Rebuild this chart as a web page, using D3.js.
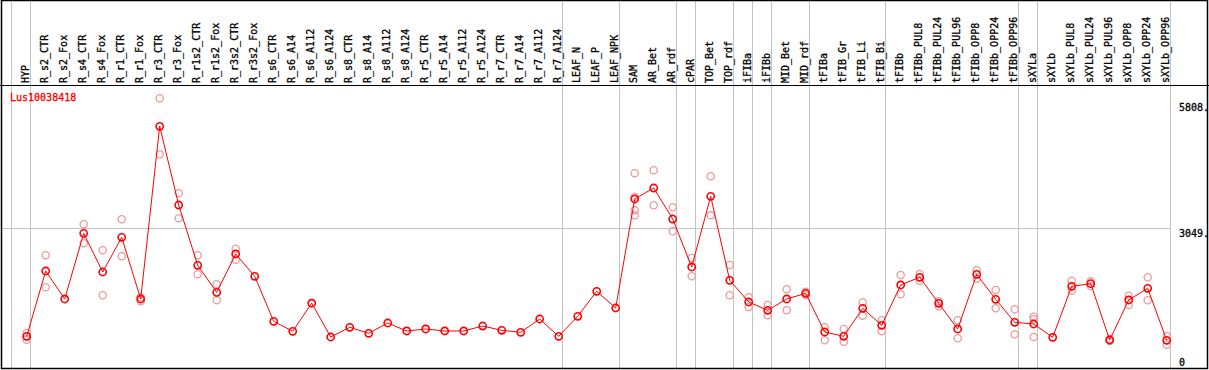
<!DOCTYPE html>
<html>
<head>
<meta charset="utf-8">
<script src="https://cdn.jsdelivr.net/npm/d3@7"></script>
<style>
	body { margin: 0; background: #fff; }
	svg text { font-family: "DejaVu Sans Mono", monospace; font-size: 10px; }
</style>
</head>
<body>
<div id="chart"></div>
<script>
const samples = ["HYP", "R_s2_CTR", "R_s2_Fox", "R_s4_CTR", "R_s4_Fox", "R_r1_CTR", "R_r1_Fox", "R_r3_CTR", "R_r3_Fox",
	"R_r1s2_CTR", "R_r1s2_Fox", "R_r3s2_CTR", "R_r3s2_Fox", "R_s6_CTR", "R_s6_A14", "R_s6_A112", "R_s6_A124",
	"R_s8_CTR", "R_s8_A14", "R_s8_A112", "R_s8_A124", "R_r5_CTR", "R_r5_A14", "R_r5_A112", "R_r5_A124",
	"R_r7_CTR", "R_r7_A14", "R_r7_A112", "R_r7_A124", "LEAF_N", "LEAF_P", "LEAF_NPK", "SAM", "AR_Bet", "AR_rdf",
	"cPAR", "TOP_Bet", "TOP_rdf", "iFIBa", "iFIBb", "MID_Bet", "MID_rdf", "tFIBa", "tFIB_Gr", "tFIB_Li", "tFIB_Bi",
	"tFIBb", "tFIBb_PUL8", "tFIBb_PUL24", "tFIBb_PUL96", "tFIBb_OPP8", "tFIBb_OPP24", "tFIBb_OPP96",
	"sXYLa", "sXYLb", "sXYLb_PUL8", "sXYLb_PUL24", "sXYLb_PUL96", "sXYLb_OPP8", "sXYLb_OPP24", "sXYLb_OPP96"];

const means = [673, 2106, 1492, 2932, 2084, 2845, 1492, 5280, 3553, 2231, 1638, 2479, 1989, 1002, 783, 1400, 658,
	871, 739, 965, 790, 834, 790, 790, 899, 805, 761, 1053, 673, 1112, 1660, 1294, 3685, 3926, 3246, 2194, 3744,
	1902, 1426, 1244, 1492, 1616, 768, 673, 1288, 915, 1799, 1968, 1397, 834, 2033, 1485, 980, 943, 651, 1770,
	1828, 592, 1470, 1726, 586];

const replicates = [[746, 673, 599], [2450, 1748], [], [3130, 2713], [2560, 1573], [3240, 2428], [1529, 1441],
	[5894, 4666], [3810, 3262], [2450, 2033], [1814, 1463], [2595, 2354], [],
	[], [], [], [], [], [], [], [], [], [], [], [], [], [], [], [], [], [], [],
	[4249, 3729, 3437, 3327], [4315, 3547], [3503, 2976], [2391, 1989], [4183, 3327], [2237, 1573],
	[1529, 1316], [1360, 1134], [1704, 1244], [1650, 1580], [871, 586], [834, 555], [1419, 1126], [1024, 783],
	[2018, 1595], [2040, 1893], [1441, 1331], [1024, 629], [2128, 1937], [1689, 1288], [1266, 717],
	[1104, 1046, 658], [], [1893, 1674], [1880, 1777], [620, 570], [1564, 1360], [1968, 1463], [680, 489]];

// last sample index of each group (-1 = line before the first one)
const groupEnds = [-1, 0, 28, 31, 34, 35, 37, 38, 39, 41, 45, 52, 53, 60];

const yTicks = [5808, 3049, 0];
const yTickLabels = ["5808.", "3049.", "0"];
const gridValue = 3049;
const title = "Lus10038418";

const W = 1209, H = 370;
const headerBottom = 85;

const svg = d3.select("#chart").append("svg")
	.attr("width", W)
	.attr("height", H);

const x = d3.scalePoint()
	.domain(samples)
	.range([26.7, 1166.7]);
const step = x.step();

const y = d3.scaleLinear()
	.domain([0, gridValue])
	.range([367, 228]);

const sepX = d => Math.round((d < 0 ? x(samples[0]) - step : x(samples[d])) + 3.5) + 0.5;

// group separators
svg.append("g")
	.selectAll("line")
	.data(groupEnds)
	.enter().append("line")
	.attr("x1", sepX)
	.attr("x2", sepX)
	.attr("y1", 0)
	.attr("y2", H)
	.attr("stroke", "#c4c4c4")
	.attr("stroke-width", 1);

// horizontal grid line
svg.append("line")
	.attr("x1", 1)
	.attr("x2", sepX(samples.length - 1))
	.attr("y1", Math.round(y(gridValue)) + 0.5)
	.attr("y2", Math.round(y(gridValue)) + 0.5)
	.attr("stroke", "#c4c4c4");

// frame + header line
svg.append("rect")
	.attr("x", 1.5).attr("y", 0.5)
	.attr("width", W - 3).attr("height", H - 2)
	.attr("fill", "none")
	.attr("stroke", "#000")
	.attr("stroke-width", 1.5);
svg.append("line")
	.attr("x1", 0).attr("x2", W)
	.attr("y1", headerBottom + 0.5).attr("y2", headerBottom + 0.5)
	.attr("stroke", "#000");

// sample labels
svg.append("g")
	.selectAll("text")
	.data(samples)
	.enter().append("text")
	.attr("transform", d => `translate(${x(d) + 2.5},${headerBottom - 2}) rotate(-90)`)
	.attr("fill", "#000")
	.attr("stroke", "#000")
	.attr("stroke-width", 0.3)
	.text(d => d);

// y labels
svg.append("g")
	.selectAll("text")
	.data(yTicks)
	.enter().append("text")
	.attr("x", 1179)
	.attr("y", d => Math.min(y(d) + 8.5, 366))
	.attr("fill", "#000")
	.attr("stroke", "#000")
	.attr("stroke-width", 0.3)
	.text((d, i) => yTickLabels[i]);

svg.append("text")
	.attr("x", 10)
	.attr("y", 101)
	.attr("fill", "#ff0000")
	.attr("stroke", "#ff0000")
	.attr("stroke-width", 0.3)
	.text(title);

const repPoints = [];
replicates.forEach((reps, i) => reps.forEach(v => repPoints.push({ s: samples[i], v: v })));

svg.append("g")
	.selectAll("circle")
	.data(repPoints)
	.enter().append("circle")
	.attr("cx", d => x(d.s))
	.attr("cy", d => y(d.v))
	.attr("r", 3.6)
	.attr("fill", "none")
	.attr("stroke", "#ec9a9a")
	.attr("stroke-width", 1.3);

const line = d3.line()
	.x((d, i) => x(samples[i]))
	.y(d => y(d));

svg.append("path")
	.datum(means)
	.attr("d", line)
	.attr("fill", "none")
	.attr("stroke", "#ff0000")
	.attr("stroke-width", 1);

svg.append("g")
	.selectAll("circle")
	.data(means)
	.enter().append("circle")
	.attr("cx", (d, i) => x(samples[i]))
	.attr("cy", d => y(d))
	.attr("r", 3.6)
	.attr("fill", "none")
	.attr("stroke", "#ff0000")
	.attr("stroke-width", 1.6);
</script>
</body>
</html>
